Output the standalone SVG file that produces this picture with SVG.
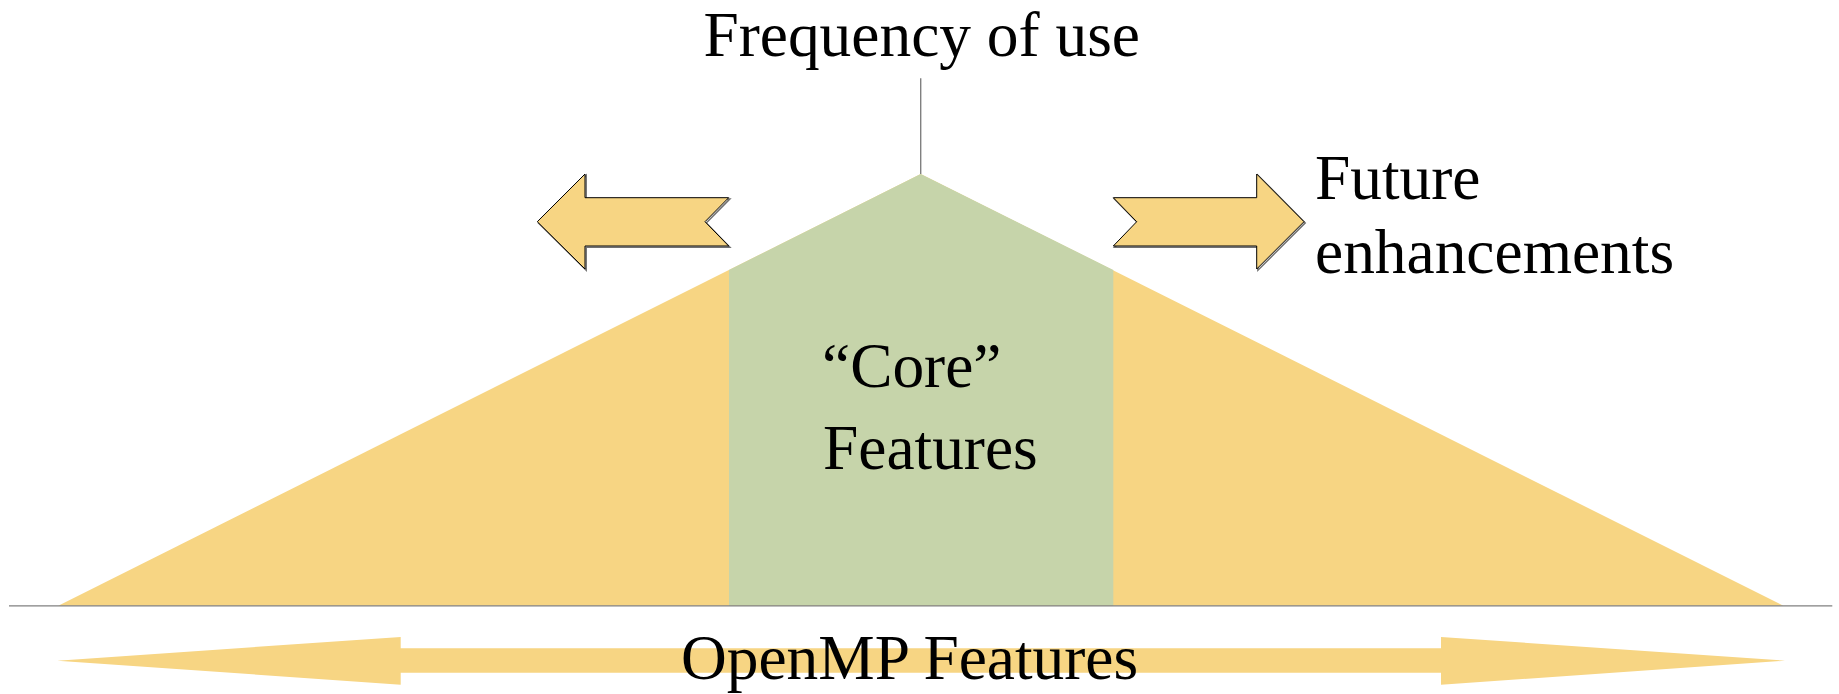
<svg xmlns="http://www.w3.org/2000/svg" width="1839" height="694" viewBox="0 0 1839 694">
<style>
.y{fill:#F7D583}
.g{fill:#C6D4AA}
.t{font-family:"Liberation Serif","Times New Roman",serif;font-size:63.4px;fill:#000}
.arr{fill:#F7D583;stroke:#000;stroke-width:1;stroke-linejoin:miter}
.sh{fill:none;stroke:#707070;stroke-width:1.5}
.ln{stroke:#808080;stroke-width:1.4;fill:none}
</style>
<rect width="1839" height="694" fill="#fff"/>
<g id="pyramid">
<polygon class="y" points="58.3,605.7 920.7,174 1783.3,605.7"/>
<polygon class="g" points="729,605.7 729,270 920.7,174 1113.3,270 1113.3,605.7"/>
</g>
<g id="connectors">
<line class="ln" x1="920.7" y1="78.3" x2="920.7" y2="174"/>
<line class="ln" x1="9" y1="605.9" x2="1832.3" y2="605.9"/>
</g>
<g id="features-arrow">
<polygon class="y" points="57.3,660.7 400.7,637 400.7,648.3 1441,648.3 1441,637 1785,660.7 1441,684.7 1441,672.7 400.7,672.7 400.7,684.7"/>
</g>
<g id="left-arrow">
<polygon class="sh" transform="translate(1.2,1.2)" points="537.3,221.7 585,174 585,197.7 728.7,197.7 705,221.7 728.7,246 585,246 585,269"/>
<polygon class="arr" points="537.3,221.7 585,174 585,197.7 728.7,197.7 705,221.7 728.7,246 585,246 585,269"/>
</g>
<g id="right-arrow">
<polygon class="sh" transform="translate(1.2,1.2)" points="1113.3,197.7 1256.7,197.7 1256.7,174 1304,221.7 1256.7,269 1256.7,246 1113.3,246 1136.7,221.7"/>
<polygon class="arr" points="1113.3,197.7 1256.7,197.7 1256.7,174 1304,221.7 1256.7,269 1256.7,246 1113.3,246 1136.7,221.7"/>
</g>
<g id="label-frequency">
<text class="t" x="921.7" y="56" text-anchor="middle">Frequency of use</text>
</g>
<g id="label-future">
<text class="t" x="1315" y="199.3">Future</text>
<text class="t" x="1315" y="273.3">enhancements</text>
</g>
<g id="label-core">
<text class="t" x="822" y="386.7">“Core”</text>
<text class="t" x="823" y="469.3">Features</text>
</g>
<g id="label-openmp">
<text class="t" x="909.6" y="679" text-anchor="middle">OpenMP Features</text>
</g>
</svg>
